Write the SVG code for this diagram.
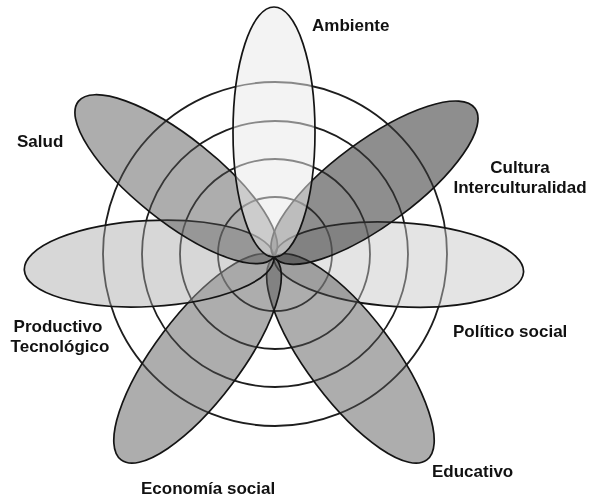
<svg xmlns="http://www.w3.org/2000/svg" width="592" height="500" viewBox="0 0 592 500">
<style>
  .ring { fill: none; stroke: #1e1e1e; stroke-width: 1.8; }
  .veil { fill: #ffffff; stroke: none; }
  .tint { stroke: none; mix-blend-mode: multiply; }
  .edge { fill: none; stroke: #141414; stroke-width: 1.7; }
  .lbl { font-family: "Liberation Sans", Arial, Helvetica, sans-serif; font-weight: bold; font-size: 17px; fill: #111111; }
</style>
<rect x="0" y="0" width="592" height="500" fill="#ffffff"/>
<g id="connectors">
  <circle class="ring" cx="275" cy="254" r="57"/>
  <circle class="ring" cx="275" cy="254" r="95"/>
  <circle class="ring" cx="275" cy="254" r="133"/>
  <circle class="ring" cx="275" cy="254" r="172"/>
</g>
<g id="politico" transform="rotate(3.5 274 257)">
  <ellipse class="veil" cx="399" cy="257" rx="125" ry="42" fill-opacity="0.4"/>
  <ellipse class="tint" cx="399" cy="257" rx="125" ry="42" fill="#e4e4e4"/>
  <ellipse class="edge" cx="399" cy="257" rx="125" ry="42"/>
</g>
<g id="educativo" transform="rotate(53 274 257)">
  <ellipse class="veil" cx="401" cy="257" rx="127" ry="43" fill-opacity="0.22"/>
  <ellipse class="tint" cx="401" cy="257" rx="127" ry="43" fill="#adadad"/>
  <ellipse class="edge" cx="401" cy="257" rx="127" ry="43"/>
</g>
<g id="economia" transform="rotate(127 274 257)">
  <ellipse class="veil" cx="401" cy="257" rx="127" ry="43" fill-opacity="0.22"/>
  <ellipse class="tint" cx="401" cy="257" rx="127" ry="43" fill="#adadad"/>
  <ellipse class="edge" cx="401" cy="257" rx="127" ry="43"/>
</g>
<g id="productivo" transform="rotate(177 274 257)">
  <ellipse class="veil" cx="399" cy="257" rx="125" ry="43" fill-opacity="0.35"/>
  <ellipse class="tint" cx="399" cy="257" rx="125" ry="43" fill="#d7d7d7"/>
  <ellipse class="edge" cx="399" cy="257" rx="125" ry="43"/>
</g>
<g id="salud" transform="rotate(-141.5 274 257)">
  <ellipse class="veil" cx="399" cy="257" rx="125" ry="42" fill-opacity="0.22"/>
  <ellipse class="tint" cx="399" cy="257" rx="125" ry="42" fill="#adadad"/>
  <ellipse class="edge" cx="399" cy="257" rx="125" ry="42"/>
</g>
<g id="cultura" transform="rotate(-36.5 274 257)">
  <ellipse class="veil" cx="399" cy="257" rx="125" ry="42" fill-opacity="0.22"/>
  <ellipse class="tint" cx="399" cy="257" rx="125" ry="42" fill="#8e8e8e"/>
  <ellipse class="edge" cx="399" cy="257" rx="125" ry="42"/>
</g>
<g id="ambiente" transform="rotate(-90 274 257)">
  <ellipse class="veil" cx="399" cy="257" rx="125" ry="41" fill-opacity="0.5"/>
  <ellipse class="tint" cx="399" cy="257" rx="125" ry="41" fill="#f3f3f3"/>
  <ellipse class="edge" cx="399" cy="257" rx="125" ry="41"/>
</g>
<g id="labels">
  <text class="lbl" x="312" y="31">Ambiente</text>
  <text class="lbl" x="17" y="147">Salud</text>
  <text class="lbl" x="520" y="173" text-anchor="middle">Cultura</text>
  <text class="lbl" x="520" y="193" text-anchor="middle">Interculturalidad</text>
  <text class="lbl" x="453" y="337">Político social</text>
  <text class="lbl" x="58" y="332" text-anchor="middle">Productivo</text>
  <text class="lbl" x="60" y="352" text-anchor="middle">Tecnológico</text>
  <text class="lbl" x="432" y="477">Educativo</text>
  <text class="lbl" x="141" y="494">Economía social</text>
</g>
</svg>
